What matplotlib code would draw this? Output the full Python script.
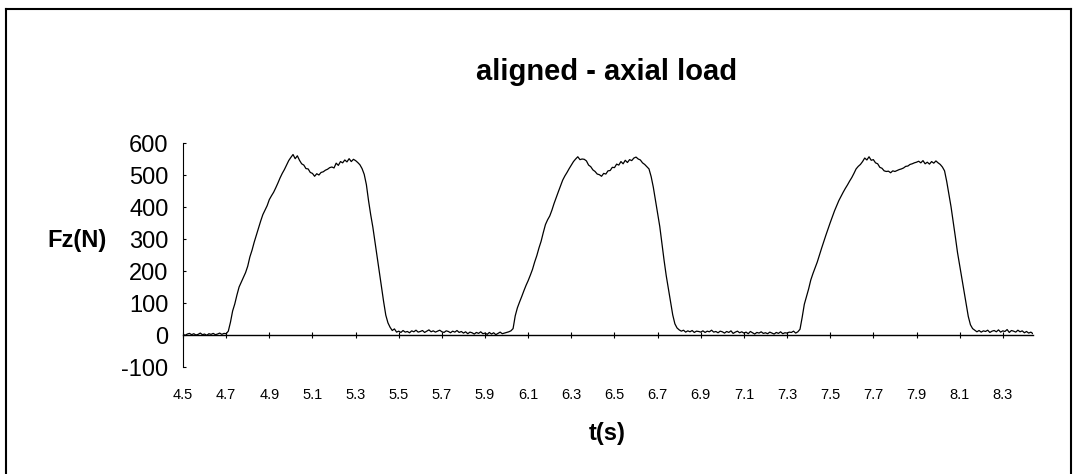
import numpy as np
import matplotlib
matplotlib.use("Agg")
import matplotlib.pyplot as plt
from matplotlib.lines import Line2D

plt.rcParams['font.family'] = ['Liberation Sans', 'DejaVu Sans']

t_start = 4.50
t_step = 0.01

base_a = [2, -1, 3, 5, 1, 4, 0, 2, 6, 1, 3, -1, 4, 2, 5, 1, 3, 6, 2, 5]
pulse_1 = [4, 12, 40, 75, 97, 125, 150, 165, 180, 195,
           215, 244, 265, 290, 312, 335, 356, 376, 390, 404,
           423, 435, 446, 460, 475, 491, 505, 517, 531, 545,
           555, 564, 551, 560, 546, 535, 531, 520, 519, 508,
           505, 496, 504, 500, 508, 510, 515, 518, 523, 525,
           522, 537, 530, 542, 538, 547, 541, 551, 542, 549,
           545, 539, 532, 520, 502, 470, 420, 376, 337, 290,
           241, 194, 149, 104, 62, 38, 24, 14, 19, 9]
base_b = [12, 8, 14, 9, 11, 7, 13, 10, 15, 9,
          11, 14, 8, 12, 16, 10, 13, 9, 12, 15,
          10, 8, 13, 11, 7, 12, 9, 14, 8, 11,
          6, 10, 4, 9, 7, 3, 8, 5, 10, 4,
          6, 2, 8, 3, 7, 1, 5, 9, 4, 6,
          8, 10, 13]
pulse_2 = [20, 60, 85, 103, 120, 138, 155,
           170, 187, 205, 228, 248, 272, 293, 320, 345, 360,
           372, 390, 411, 430, 448, 466, 484, 497, 508, 520,
           531, 542, 550, 557, 548, 550, 549, 544, 531, 526,
           516, 511, 503, 501, 496, 505, 503, 513, 514, 524,
           523, 534, 531, 542, 535, 546, 539, 548, 545, 553,
           556, 550, 547, 538, 533, 526, 519, 495, 462, 420,
           380, 339, 285, 233, 185, 145, 105, 63, 35, 22,
           16, 12]
base_c = [15, 9, 13, 10, 14, 8, 12, 11,
          9, 13, 8, 12, 10, 15, 9, 11, 7, 12,
          10, 6, 11, 8, 13, 5, 9, 12, 7, 10,
          6, 9, 4, 11, 7, 3, 8, 6, 10, 5,
          7, 4, 9, 6, 3, 8, 5, 10, 4, 7,
          6, 9, 8, 12, 6, 10]
pulse_3 = [18, 55, 96, 120,
           144, 172, 192, 210, 228, 250, 271, 292, 312, 332,
           351, 370, 388, 404, 420, 433, 446, 458, 469, 481,
           492, 505, 519, 527, 533, 542, 553, 547, 557, 546,
           548, 538, 535, 524, 521, 513, 511, 512, 507, 513,
           511, 514, 517, 519, 522, 527, 528, 533, 535, 538,
           540, 543, 538, 545, 535, 540, 534, 542, 537, 544,
           538, 533, 525, 513, 480, 440, 401, 355, 307, 258,
           218, 178, 136, 96, 58, 32, 20, 15]
base_d = [10, 14,
          9, 13, 11, 15, 8, 12, 14, 10, 16, 9,
          13, 11, 17, 8, 14, 12, 9, 15, 10, 13,
          7, 11, 6, 9, 4]

tick_values = [4.5, 4.7, 4.9, 5.1, 5.3, 5.5, 5.7, 5.9, 6.1, 6.3,
               6.5, 6.7, 6.9, 7.1, 7.3, 7.5, 7.7, 7.9, 8.1, 8.3]
y_ticks = [-100, 0, 100, 200, 300, 400, 500, 600]

force = np.array(base_a + pulse_1 + base_b + pulse_2 + base_c + pulse_3 + base_d, dtype=float)
time = t_start + t_step * np.arange(len(force))

# ---- figure ----
W, H = 1078, 474
fig = plt.figure(figsize=(W / 100, H / 100), dpi=100)
fig.patch.set_facecolor('white')

def fx(px):
    return px / W

def fy(py):
    return 1 - py / H

ax = fig.add_axes([fx(183), fy(367), fx(1033) - fx(183), fy(143) - fy(367)])
ax.plot(time, force, color='black', lw=0.9)
ax.set_xlim(t_start, time[-1])
ax.set_ylim(-100, 600)

for s in ('top', 'right'):
    ax.spines[s].set_visible(False)
ax.spines['bottom'].set_position(('data', 0))
ax.spines['bottom'].set_linewidth(1.0)
ax.spines['left'].set_linewidth(0.8)

ax.set_xticks(tick_values)
ax.set_xticklabels([f"{v:.1f}" for v in tick_values])
ax.set_yticks(y_ticks)
ax.set_yticklabels([str(v) for v in y_ticks])
ax.tick_params(axis='x', direction='inout', length=4.5, width=0.8, pad=36, labelsize=10.5)
ax.tick_params(axis='y', direction='in', length=2.5, width=0.8, pad=10.5, labelsize=17)

fig.text(fx(607), fy(80.5), 'aligned - axial load', ha='center', va='baseline',
         fontsize=21, fontweight='bold')
fig.text(fx(77), fy(246.5), 'Fz(N)', ha='center', va='baseline',
         fontsize=17, fontweight='bold')
fig.text(fx(607), fy(440), 't(s)', ha='center', va='baseline',
         fontsize=17, fontweight='bold')

# chart-area frame
fig.add_artist(Line2D([fx(6), fx(6)], [fy(474), fy(9)], color='black', lw=1.5,
                      transform=fig.transFigure, solid_capstyle='projecting'))
fig.add_artist(Line2D([fx(6), fx(1071)], [fy(9), fy(9)], color='black', lw=1.5,
                      transform=fig.transFigure, solid_capstyle='projecting'))
fig.add_artist(Line2D([fx(1071), fx(1071)], [fy(9), fy(474)], color='black', lw=1.5,
                      transform=fig.transFigure, solid_capstyle='projecting'))

fig.savefig('out.png', dpi=100, facecolor='white')
